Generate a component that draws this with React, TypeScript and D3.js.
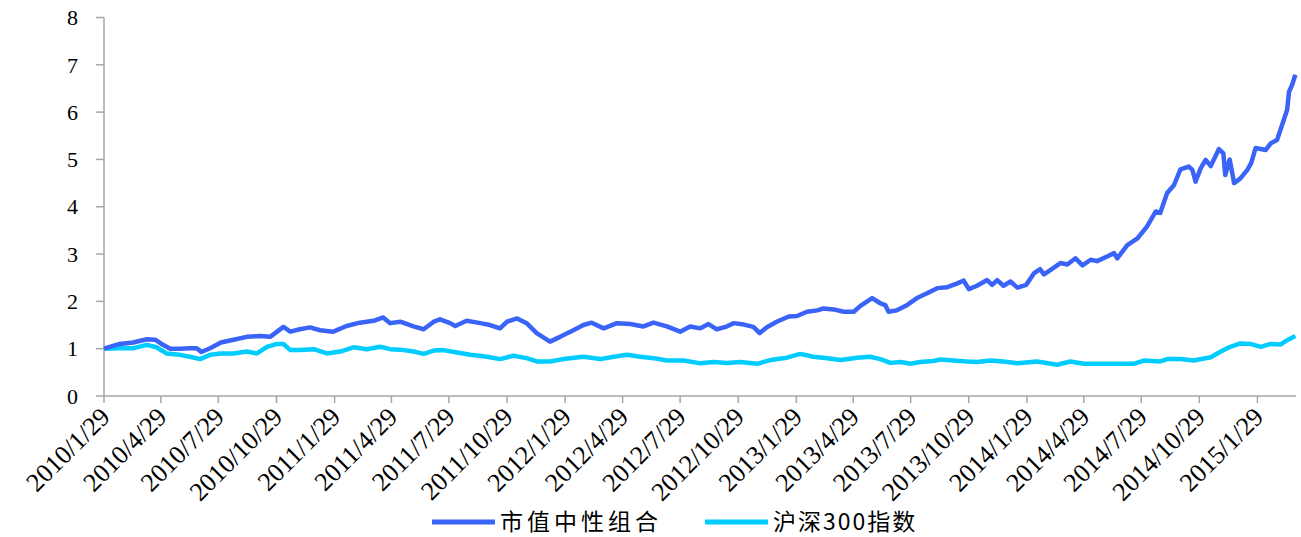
import React from "react";
import * as d3 from "d3";

const yTicks = [0, 1, 2, 3, 4, 5, 6, 7, 8];
const xTickLabels = [
  "2010/1/29", "2010/4/29", "2010/7/29", "2010/10/29",
  "2011/1/29", "2011/4/29", "2011/7/29", "2011/10/29",
  "2012/1/29", "2012/4/29", "2012/7/29", "2012/10/29",
  "2013/1/29", "2013/4/29", "2013/7/29", "2013/10/29",
  "2014/1/29", "2014/4/29", "2014/7/29", "2014/10/29",
  "2015/1/29",
];
const seriesNames = ["市值中性组合", "沪深300指数"];

const portfolioDates = [
  "2010-01-29","2010-02-23","2010-03-16","2010-04-07","2010-04-20","2010-04-30","2010-05-14","2010-05-29",
  "2010-06-14","2010-06-25","2010-07-02","2010-07-16","2010-08-02","2010-08-22","2010-09-12","2010-10-03",
  "2010-10-19","2010-10-30","2010-11-09","2010-11-20","2010-12-05","2010-12-21","2011-01-06","2011-01-27",
  "2011-02-17","2011-03-10","2011-04-01","2011-04-16","2011-04-27","2011-05-13","2011-06-03","2011-06-19",
  "2011-07-05","2011-07-15","2011-07-31","2011-08-08","2011-08-26","2011-09-17","2011-10-02","2011-10-18",
  "2011-10-29","2011-11-14","2011-11-29","2011-12-15","2012-01-05","2012-01-21","2012-02-11","2012-02-27",
  "2012-03-11","2012-03-30","2012-04-20","2012-05-11","2012-06-01","2012-06-17","2012-07-08","2012-07-29",
  "2012-08-14","2012-08-30","2012-09-12","2012-09-25","2012-10-09","2012-10-22","2012-11-07","2012-11-22",
  "2012-12-02","2012-12-14","2012-12-29","2013-01-17","2013-01-30","2013-02-15","2013-03-03","2013-03-13",
  "2013-03-29","2013-04-14","2013-04-30","2013-05-10","2013-05-29","2013-06-11","2013-06-19","2013-06-24",
  "2013-07-07","2013-07-23","2013-08-08","2013-08-24","2013-09-09","2013-09-25","2013-10-11","2013-10-21",
  "2013-10-29","2013-11-11","2013-11-27","2013-12-05","2013-12-13","2013-12-23","2014-01-03","2014-01-14",
  "2014-01-28","2014-02-09","2014-02-19","2014-02-25","2014-03-07","2014-03-23","2014-04-03","2014-04-16",
  "2014-04-27","2014-05-10","2014-05-20","2014-06-05","2014-06-16","2014-06-21","2014-07-07","2014-07-23",
  "2014-08-07","2014-08-21","2014-08-28","2014-09-08","2014-09-19","2014-09-29","2014-10-12","2014-10-18",
  "2014-10-23","2014-10-31","2014-11-08","2014-11-16","2014-11-29","2014-12-06","2014-12-09","2014-12-16",
  "2014-12-23","2015-01-02","2015-01-13","2015-01-19","2015-01-26","2015-02-11","2015-02-19","2015-03-01",
  "2015-03-09","2015-03-17","2015-03-20","2015-03-25","2015-03-30",
];
const portfolioValues = [
  1.00,1.10,1.13,1.20,1.19,1.10,1.00,1.00,
  1.01,1.01,0.93,1.01,1.13,1.19,1.25,1.27,
  1.25,1.36,1.46,1.36,1.41,1.45,1.39,1.36,
  1.48,1.55,1.59,1.66,1.54,1.57,1.47,1.41,
  1.57,1.62,1.54,1.48,1.59,1.54,1.50,1.43,
  1.57,1.64,1.54,1.33,1.15,1.25,1.39,1.50,
  1.55,1.43,1.54,1.52,1.47,1.55,1.47,1.36,
  1.47,1.43,1.52,1.41,1.46,1.54,1.51,1.46,
  1.33,1.46,1.57,1.68,1.69,1.78,1.81,1.85,
  1.83,1.78,1.78,1.90,2.07,1.96,1.92,1.78,
  1.81,1.92,2.07,2.17,2.28,2.30,2.38,2.44,
  2.26,2.33,2.45,2.35,2.45,2.33,2.42,2.29,
  2.35,2.59,2.68,2.57,2.66,2.81,2.78,2.91,
  2.76,2.88,2.85,2.95,3.02,2.91,3.19,3.33,
  3.58,3.90,3.87,4.29,4.46,4.79,4.85,4.78,
  4.53,4.81,4.99,4.86,5.22,5.13,4.67,5.00,
  4.50,4.60,4.78,4.92,5.24,5.20,5.34,5.41,
  5.73,6.05,6.43,6.58,6.79,
];

const indexDates = [
  "2010-01-29","2010-02-23","2010-03-16","2010-04-07","2010-04-22","2010-05-08","2010-05-29","2010-06-14",
  "2010-06-30","2010-07-16","2010-08-02","2010-08-22","2010-09-12","2010-09-28","2010-10-14","2010-10-30",
  "2010-11-09","2010-11-20","2010-12-05","2010-12-27","2011-01-17","2011-02-07","2011-02-28","2011-03-21",
  "2011-04-11","2011-04-27","2011-05-13","2011-06-03","2011-06-19","2011-07-05","2011-07-20","2011-08-11",
  "2011-09-01","2011-09-27","2011-10-18","2011-11-08","2011-11-29","2011-12-15","2012-01-05","2012-01-26",
  "2012-02-27","2012-03-25","2012-04-15","2012-05-06","2012-05-27","2012-06-17","2012-07-08","2012-08-04",
  "2012-08-30","2012-09-20","2012-10-11","2012-11-01","2012-11-28","2012-12-19","2013-01-14","2013-02-04",
  "2013-02-25","2013-03-19","2013-04-09","2013-05-05","2013-05-26","2013-06-11","2013-06-27","2013-07-13",
  "2013-07-29","2013-08-13","2013-09-03","2013-09-14","2013-10-05","2013-10-26","2013-11-11","2013-12-02",
  "2013-12-23","2014-01-14","2014-02-14","2014-03-18","2014-04-08","2014-04-29","2014-05-26","2014-06-21",
  "2014-07-17","2014-08-02","2014-08-28","2014-09-08","2014-09-29","2014-10-20","2014-11-16","2014-12-02",
  "2014-12-17","2015-01-02","2015-01-18","2015-02-03","2015-02-19","2015-03-07","2015-03-17","2015-03-30",
];
const indexValues = [
  1.00,1.01,1.01,1.08,1.03,0.90,0.87,0.83,
  0.78,0.87,0.90,0.90,0.94,0.90,1.04,1.10,
  1.10,0.97,0.97,0.99,0.90,0.94,1.03,0.99,
  1.04,0.99,0.98,0.94,0.89,0.96,0.97,0.92,
  0.87,0.83,0.78,0.85,0.80,0.73,0.73,0.78,
  0.83,0.78,0.83,0.87,0.83,0.80,0.75,0.75,
  0.69,0.72,0.70,0.72,0.68,0.76,0.81,0.89,
  0.83,0.80,0.76,0.81,0.83,0.78,0.70,0.72,
  0.68,0.72,0.74,0.77,0.75,0.73,0.72,0.75,
  0.73,0.69,0.73,0.66,0.73,0.68,0.68,0.68,
  0.68,0.75,0.73,0.78,0.78,0.75,0.82,0.94,
  1.04,1.11,1.10,1.04,1.10,1.09,1.18,1.27,
];

const BLUE = "#3A63F7";
const CYAN = "#00CCFF";
const AXIS = "#A6A6A6";

export default function App() {
  const W = 1301, H = 537;
  const left = 104, right = 1296, top = 17.5, bottom = 396;
  const parse = d3.timeParse("%Y-%m-%d");
  const x = d3
    .scaleTime()
    .domain([parse("2010-01-29")!, parse("2015-03-31")!])
    .range([left, right]);
  const y = d3.scaleLinear().domain([0, 8]).range([bottom, top]);

  const mk = (dates: string[], vals: number[]) =>
    dates.map((d, i) => ({ d: parse(d)!, v: vals[i] }));
  const line = d3
    .line<{ d: Date; v: number }>()
    .x((p) => x(p.d))
    .y((p) => y(p.v));

  const pBlue = line(mk(portfolioDates, portfolioValues)) || "";
  const pCyan = line(mk(indexDates, indexValues)) || "";

  const parseTick = d3.timeParse("%Y/%m/%d");
  const serif = "Liberation Serif, Tinos, Times New Roman, DejaVu Serif, serif";
  const cjk = "Noto Sans CJK SC, Noto Sans, sans-serif";

  return (
    <svg width={W} height={H} style={{ position: "absolute", left: 0, top: 0, background: "#fff" }}>
      <line x1={left} x2={left} y1={top} y2={bottom} stroke={AXIS} strokeWidth={1.5} />
      {yTicks.map((t) => (
        <g key={t}>
          <line x1={left - 8} x2={left} y1={y(t)} y2={y(t)} stroke={AXIS} strokeWidth={1.5} />
          <text
            x={left - 26}
            y={y(t)}
            dy="0.35em"
            textAnchor="end"
            style={{ fontFamily: serif, fontSize: 22 }}
            fill="#000"
          >
            {t}
          </text>
        </g>
      ))}
      <line x1={left} x2={right} y1={bottom} y2={bottom} stroke={AXIS} strokeWidth={1.5} />
      {xTickLabels.map((lbl) => {
        const tx = x(parseTick(lbl)!);
        return (
          <g key={lbl}>
            <line x1={tx} x2={tx} y1={bottom} y2={bottom + 7} stroke={AXIS} strokeWidth={1.5} />
            <text
              transform={`translate(${tx + 1},${bottom + 16}) rotate(-45)`}
              textAnchor="end"
              dy="0.35em"
              style={{ fontFamily: serif, fontSize: 26 }}
              fill="#000"
            >
              {lbl}
            </text>
          </g>
        );
      })}
      <path d={pCyan} fill="none" stroke={CYAN} strokeWidth={4.5} strokeLinejoin="round" />
      <path d={pBlue} fill="none" stroke={BLUE} strokeWidth={4.5} strokeLinejoin="round" />
      <line x1={432} x2={495} y1={522} y2={522} stroke={BLUE} strokeWidth={5} />
      <text x={500} y={522} dy="0.36em" style={{ fontFamily: cjk, fontSize: 23, letterSpacing: 4 }} fill="#000">
        {seriesNames[0]}
      </text>
      <line x1={705} x2={768} y1={522} y2={522} stroke={CYAN} strokeWidth={5} />
      <text x={773} y={522} dy="0.36em" style={{ fontFamily: cjk, fontSize: 23, letterSpacing: 2 }} fill="#000">
        {seriesNames[1]}
      </text>
    </svg>
  );
}
